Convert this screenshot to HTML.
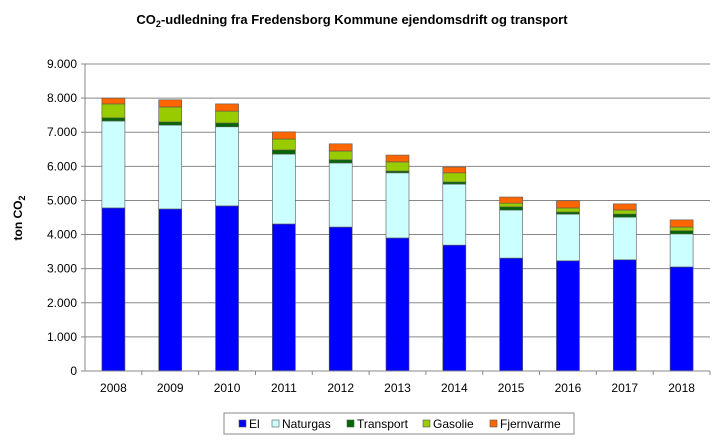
<!DOCTYPE html>
<html><head><meta charset="utf-8"><style>
body{margin:0;background:#fff;font-family:"Liberation Sans",Arial,sans-serif}
svg text{font-family:"Liberation Sans",Arial,sans-serif}
</style></head><body>
<svg id="c" width="720" height="438" xmlns="http://www.w3.org/2000/svg">
<text x="352" y="24" text-anchor="middle" font-size="13" font-weight="bold">CO<tspan font-size="9" dy="3">2</tspan><tspan dy="-3">-udledning fra Fredensborg Kommune ejendomsdrift og transport</tspan></text>
<text transform="translate(22,218) rotate(-90)" text-anchor="middle" font-size="12" font-weight="bold">ton CO<tspan font-size="9" dy="3">2</tspan></text>
<g id="grid"></g><g id="bars"></g><g id="axes"></g>
<rect x="224" y="413" width="350" height="21" fill="#fff" stroke="#888"/>
<g id="legend"></g>
</svg>
<script>
const years=["2008","2009","2010","2011","2012","2013","2014","2015","2016","2017","2018"];
const el=[4.78,4.75,4.84,4.31,4.22,3.90,3.69,3.31,3.23,3.26,3.05];
const naturgas=[2.55,2.46,2.32,2.05,1.88,1.91,1.79,1.41,1.37,1.25,0.97];
const transport=[0.09,0.09,0.11,0.12,0.09,0.05,0.06,0.09,0.06,0.09,0.09];
const gasolie=[0.41,0.44,0.35,0.32,0.26,0.27,0.27,0.11,0.12,0.12,0.11];
const fjernvarme=[0.17,0.21,0.21,0.21,0.21,0.20,0.17,0.18,0.21,0.18,0.21];
const yTicks=["0","1.000","2.000","3.000","4.000","5.000","6.000","7.000","8.000","9.000"];
const series=[["El",el,"#0000ff"],["Naturgas",naturgas,"#ccffff"],["Transport",transport,"#006600"],["Gasolie",gasolie,"#99cc00"],["Fjernvarme",fjernvarme,"#ff6600"]];
const NS="http://www.w3.org/2000/svg";
const x0=85,x1=710,y0=371,yTop=64,yMax=9;
const ys=v=>y0-(v/yMax)*(y0-yTop);
const step=(x1-x0)/years.length;
const xc=i=>x0+step*(i+0.5);
function mk(p,t,a){const e=document.createElementNS(NS,t);for(const k in a)e.setAttribute(k,a[k]);document.getElementById(p).appendChild(e);return e;}
yTicks.forEach((t,i)=>{const y=ys(i);
 const g=mk("grid","line",{x1:x0,x2:x1,y1:y,y2:y,stroke:"#888","stroke-width":1});
 
 
 const tk=mk("axes","line",{x1:x0-4,x2:x0,y1:y,y2:y,stroke:"#888"});
 
 
 const tx=mk("axes","text",{x:x0-8,y:y+4,"text-anchor":"end","font-size":12});tx.textContent=t;
 
 
});
const ax=mk("axes","line",{x1:x0,x2:x0,y1:yTop,y2:y0,stroke:"#888"});


years.forEach((yr,i)=>{
 let acc=0;const bw=23;
 series.forEach(([n,arr,col])=>{const v=arr[i];
  const r=mk("bars","rect",{x:xc(i)-bw/2,y:ys(acc+v),width:bw,height:ys(acc)-ys(acc+v),fill:col,stroke:"#555","stroke-width":0.6});
  
  
  acc+=v;});
 const t=mk("axes","text",{x:xc(i),y:y0+21,"text-anchor":"middle","font-size":12});t.textContent=yr;
 
 
 const tk=mk("axes","line",{x1:x0+step*(i+1),x2:x0+step*(i+1),y1:y0,y2:y0+4,stroke:"#888"});
 
 
});
const xa=mk("axes","line",{x1:x0,x2:x1,y1:y0,y2:y0,stroke:"#888"});


const lx=[239,272,347,423,490];
series.forEach(([n,arr,col],i)=>{
 const s=mk("legend","rect",{x:lx[i],y:420,width:7,height:7,fill:col,stroke:"#555","stroke-width":0.6});
 
 
 const t=mk("legend","text",{x:lx[i]+10,y:428,"font-size":12});t.textContent=n;
 
 
});
</script>
</body></html>
